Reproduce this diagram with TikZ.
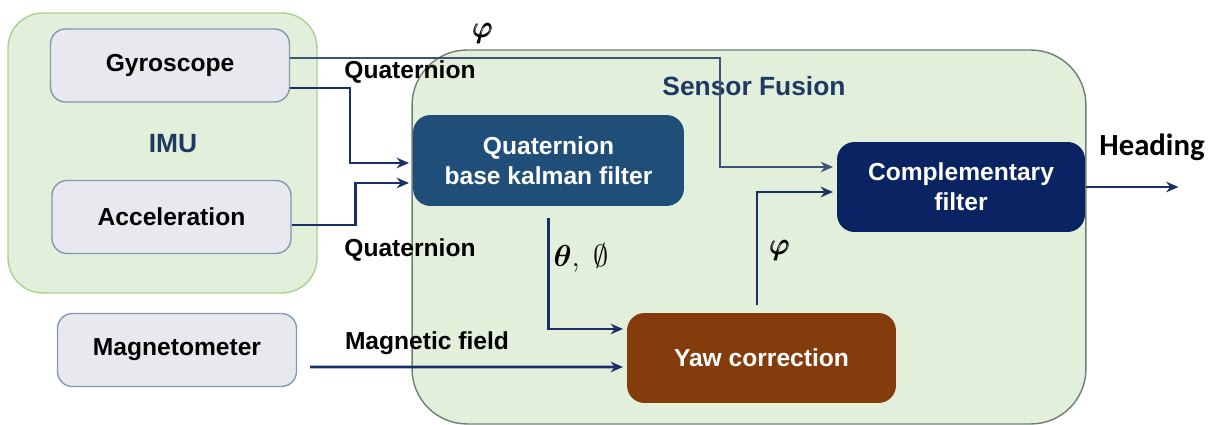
\documentclass[tikz,border=0pt]{standalone}
\usepackage{amsmath}
\usepackage{amssymb}
\usepackage{fontspec}
\setmainfont{Liberation Sans}
\newfontfamily\headfont{Carlito}
\usepackage{tikz}
\usetikzlibrary{arrows.meta}
\usetikzlibrary{calc}
\usetikzlibrary{positioning}

\definecolor{imufill}{HTML}{E2EFDA}
\definecolor{imuline}{HTML}{A9D18E}
\definecolor{fusline}{HTML}{6F7F75}
\definecolor{sensfill}{HTML}{E8E9EE}
\definecolor{sensline}{HTML}{8497B0}
\definecolor{kfblue}{HTML}{1F4E79}
\definecolor{compblue}{HTML}{0A2463}
\definecolor{yawbrown}{HTML}{843C0C}
\definecolor{txtblue}{HTML}{1F3864}
\definecolor{connblue}{HTML}{1A2F66}
\definecolor{connlight}{HTML}{3D5478}

\begin{document}
\begin{tikzpicture}[x=0.02cm,y=-0.02cm,semithick,font=\fontsize{14}{17}\selectfont\bfseries]
		\tikzstyle{cont}=[fill=imufill, line width=0.8pt]
		\tikzstyle{sens}=[draw=sensline, fill=sensfill, rounded corners=0.3cm, line width=0.8pt, minimum width=4.78cm, minimum height=1.46cm]
		\tikzstyle{blk}=[rounded corners=0.35cm, text=white, align=center, minimum height=1.8cm]
		\tikzstyle{conn}=[draw=connblue, line width=1.5pt, shorten >=2pt, -{Stealth[length=7pt,width=6pt]}]
		\tikzstyle{sym}=[font=\fontsize{16}{19}\selectfont]
			\useasboundingbox (0,0) rectangle (1215,425);
			\node[cont, draw=imuline, rounded corners=0.7cm, minimum width=6.18cm, minimum height=5.6cm] (imu) at (162.5,153) {};
			\node[cont, draw=fusline, rounded corners=1.1cm, minimum width=13.48cm, minimum height=7.48cm] (fus) at (749,237) {};
			\node[text=txtblue, font=\fontsize{15}{18}\selectfont\bfseries] (imut) at (173,144) {IMU};
			\node[text=txtblue, font=\fontsize{15}{18}\selectfont\bfseries] (fust) at (754,86) {Sensor Fusion};

			\node[sens] (gyro) at (170,65.5) {Gyroscope};
			\node[sens] (acc) at (171.5,217) {Acceleration};
			\node[sens] (mag) at (177,350) {Magnetometer};

			\node[blk, fill=kfblue, minimum width=5.42cm, minimum height=1.82cm] (kf) at (548.5,160.5) {Quaternion\\base kalman filter};
			\node[blk, fill=compblue, minimum width=4.96cm] (comp) at (961,187) {Complementary\\filter};
			\node[blk, fill=yawbrown, minimum width=5.38cm] (yaw) at (761.5,358) {Yaw correction};

			\node (q1) at (410,72) {Quaternion};
			\node (q2) at (410,250) {Quaternion};
			\node[sym] (phi1) at (483,33) {$\pmb{\varphi}$};
			\node (mf) at (427,343) {Magnetic field};
			\node[sym] (te) at (581,258) {$\boldsymbol{\theta},\;\emptyset$};
			\node[sym] (phi2) at (780,250) {$\pmb{\varphi}$};
			\node (head) at (1152,147) [font=\headfont\fontsize{17.5}{21}\selectfont\bfseries] {Heading};
			\coordinate (out) at (1182,187);

			\draw[conn, draw=connlight, line width=1.1pt] ([yshift=0.15cm]gyro.east) -- ++(430,0) |- ([yshift=0.4cm]comp.west);
			\draw[conn] ([yshift=-0.45cm]gyro.east) -- ++(60,0) |- ([yshift=-0.05cm]kf.west);
			\draw[conn] ([yshift=-0.16cm]acc.east) -- ++(64,0) |- ([yshift=-0.45cm]kf.west);
			\draw[conn] ([yshift=-0.22cm]kf.south) |- ([yshift=0.58cm]yaw.west);
			\draw[conn] ([xshift=-0.09cm,yshift=0.14cm]yaw.north) |- ([yshift=-0.1cm]comp.west);
			\draw[conn] ([xshift=0.26cm,yshift=-0.34cm]mag.east) -- ([yshift=-0.18cm]yaw.west);
			\draw[conn] (comp.east) -- (out);
\end{tikzpicture}
\end{document}
